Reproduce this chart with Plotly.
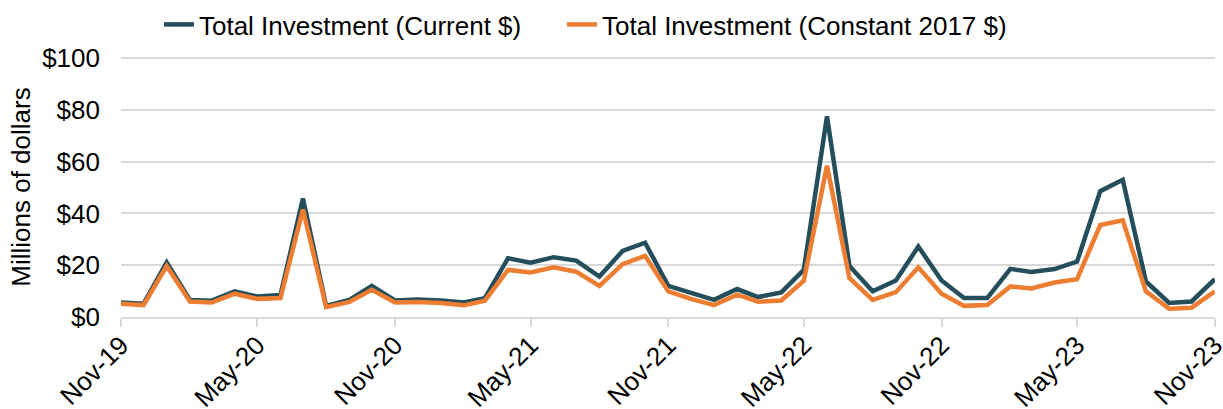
import plotly.graph_objects as go
import pandas as pd

months = pd.date_range("2019-11-01", "2023-11-01", freq="MS")

current = [5.6, 5.1, 21.1, 6.6, 6.3, 9.9, 7.9, 8.5, 45.8, 4.3, 6.6, 12.0, 6.4,
           6.8, 6.4, 5.6, 7.3, 22.7, 21.0, 23.1, 21.8, 15.6, 25.5, 28.7,
           12.0, 9.2, 6.6, 10.8, 7.7, 9.5, 18.2, 77.5, 19.7, 9.9, 14.1, 27.2,
           14.1, 7.3, 7.3, 18.6, 17.4, 18.5, 21.4, 48.6, 53.0, 13.7, 5.4, 6.0, 14.6]
constant = [5.1, 4.6, 19.7, 6.0, 5.6, 9.0, 7.0, 7.3, 41.5, 3.8, 5.8, 10.5, 5.6,
            5.8, 5.4, 4.5, 6.3, 18.2, 17.2, 19.2, 17.5, 12.0, 20.4, 23.6,
            9.9, 7.0, 4.6, 8.6, 5.9, 6.4, 14.0, 58.4, 15.0, 6.6, 9.6, 19.2,
            9.0, 4.3, 4.6, 11.8, 11.0, 13.3, 14.6, 35.5, 37.3, 9.9, 3.2, 3.6, 9.9]

y_tick_vals = [0, 20, 40, 60, 80, 100]
y_tick_text = ["$0", "$20", "$40", "$60", "$80", "$100"]

names = ["Total Investment (Current $)", "Total Investment (Constant 2017 $)"]
colors = ["#254E5C", "#ED7D31"]
legend_ids = ["legend", "legend2"]

FONT = "Liberation Sans, Arial, sans-serif"

fig = go.Figure()
for name, vals, col, lg in zip(names, [current, constant], colors, legend_ids):
    fig.add_trace(go.Scatter(x=months, y=vals, name=name, mode="lines",
                             line=dict(color=col, width=4.5), legend=lg))

leg_common = dict(orientation="h", xanchor="left", yanchor="middle", y=1.125,
                  font=dict(size=26, family=FONT, color="#000000"),
                  itemwidth=30, bgcolor="rgba(0,0,0,0)")

fig.update_layout(
    width=1223, height=409,
    margin=dict(l=121, r=8, t=57, b=92, autoexpand=False),
    paper_bgcolor="white", plot_bgcolor="white",
    font=dict(family=FONT, size=26, color="#000000"),
    legend=dict(x=0.0347, **leg_common),
    legend2=dict(x=0.4031, **leg_common),
    showlegend=True,
)
fig.update_xaxes(
    type="date", range=["2019-11-01", "2023-11-01 06:00"],
    tick0="2019-11-01", dtick="M6", tickformat="%b-%y", tickangle=-45,
    showgrid=False, showline=True, linecolor="#D9D9D9", linewidth=1.5,
    ticks="outside", ticklen=8, tickcolor="#D9D9D9", tickwidth=1.5,
    tickfont=dict(size=26), zeroline=False, automargin=False,
    ticklabelstandoff=-7, ticklabeloverflow="allow",
)
fig.update_yaxes(
    range=[0, 100.4], tickmode="array", tickvals=y_tick_vals, ticktext=y_tick_text,
    showgrid=True, gridcolor="#D9D9D9", gridwidth=1.5, zeroline=False,
    title=dict(text="Millions of dollars", font=dict(size=26), standoff=4),
    tickfont=dict(size=26), ticks="", ticklabelstandoff=20, automargin=False,
)

fig.write_html("out.html", config={"displayModeBar": False},
               post_script="document.body.style.margin='0px';")
